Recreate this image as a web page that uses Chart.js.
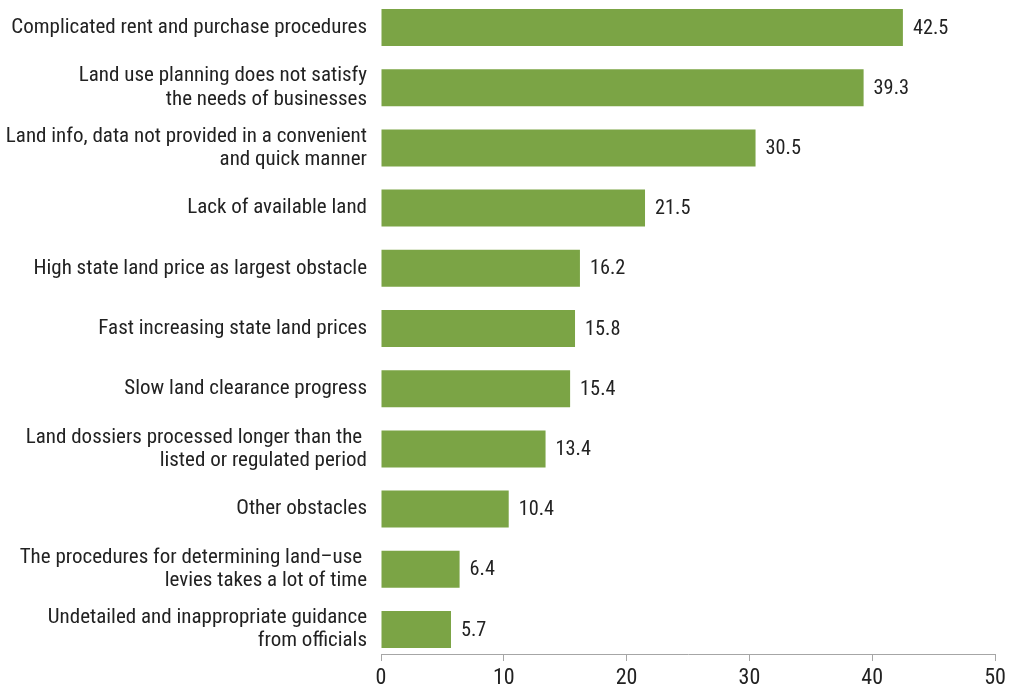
<!DOCTYPE html>
<html>
<head>
<meta charset="utf-8">
<script src="https://cdn.jsdelivr.net/npm/chart.js@4/dist/chart.umd.min.js"></script>
<style>
  html, body { margin: 0; padding: 0; background: #fff; }
  #wrap { width: 1013px; height: 687px; }
</style>
</head>
<body>
<div id="wrap"><canvas id="obstacleChart"></canvas></div>
<script>
const obstacleLabels = [
    ['Complicated rent and purchase procedures'],
    ['Land use planning does not satisfy', 'the needs of businesses'],
    ['Land info, data not provided in a convenient', 'and quick manner'],
    ['Lack of available land'],
    ['High state land price as largest obstacle'],
    ['Fast increasing state land prices'],
    ['Slow land clearance progress'],
    ['Land dossiers processed longer than the ', 'listed or regulated period'],
    ['Other obstacles'],
    ['The procedures for determining land\u2013use ', 'levies takes a lot of time'],
    ['Undetailed and inappropriate guidance', 'from officials']
];
const obstacleShares = [42.5, 39.3, 30.5, 21.5, 16.2, 15.8, 15.4, 13.4, 10.4, 6.4, 5.7];
const shareTicks = [0, 10, 20, 30, 40, 50];

const FONT = '"Roboto Condensed", Roboto, sans-serif';
const TEXT = '#222222';

// writes each value just past the end of its bar
const valueLabels = {
    id: 'valueLabels',
    afterDatasetsDraw(chart) {
        const ctx = chart.ctx;
        const meta = chart.getDatasetMeta(0);
        ctx.save();
        ctx.font = '20.3px ' + FONT;
        ctx.fillStyle = TEXT;
        ctx.textAlign = 'left';
        ctx.textBaseline = 'middle';
        meta.data.forEach((bar, i) => {
            ctx.fillText(obstacleShares[i].toFixed(1), bar.x + 10, bar.y + 1);
        });
        ctx.restore();
    }
};

document.addEventListener('DOMContentLoaded', function() {
    const ctx = document.getElementById('obstacleChart').getContext('2d');

    new Chart(ctx, {
        type: 'bar',
        data: {
            datasets: [{
                data: obstacleShares.map((v, i) => ({ x: v, y: i })),
                backgroundColor: '#7ba445',
                borderWidth: 0,
                categoryPercentage: 1,
                barPercentage: 0.615
            }]
        },
        options: {
            indexAxis: 'y',
            responsive: true,
            maintainAspectRatio: false,
            animation: false,
            layout: { padding: { left: 0, right: 18, top: 0, bottom: 0 } },
            plugins: {
                legend: { display: false },
                tooltip: { enabled: false }
            },
            scales: {
                y: {
                    type: 'linear',
                    reverse: true,
                    offset: false,
                    min: -0.457,
                    max: 10.407,
                    grid: { display: false, drawTicks: false },
                    border: { display: false },
                    afterBuildTicks: scale => {
                        scale.ticks = obstacleLabels.map((_, i) => ({ value: i }));
                    },
                    afterFit: scale => {
                        scale.width = 381;
                        scale.paddingTop = 0;
                        scale.paddingBottom = 0;
                    },
                    ticks: {
                        padding: 14,
                        color: TEXT,
                        font: { family: FONT, size: 21, lineHeight: 1.1 },
                        callback: value => obstacleLabels[value]
                    }
                },
                x: {
                    min: 0,
                    max: 50,
                    afterBuildTicks: scale => {
                        scale.ticks = shareTicks.map(v => ({ value: v }));
                    },
                    afterFit: scale => {
                        scale.height = 33;
                        scale.paddingLeft = 0;
                        scale.paddingRight = 0;
                    },
                    grid: {
                        drawOnChartArea: false,
                        drawTicks: true,
                        tickLength: 7,
                        color: '#a6a6a6'
                    },
                    border: { display: true, color: '#a6a6a6', width: 1 },
                    ticks: {
                        padding: 4,
                        color: TEXT,
                        maxRotation: 0,
                        font: { family: FONT, size: 22 }
                    }
                }
            }
        },
        plugins: [valueLabels]
    });
});
</script>
</body>
</html>
